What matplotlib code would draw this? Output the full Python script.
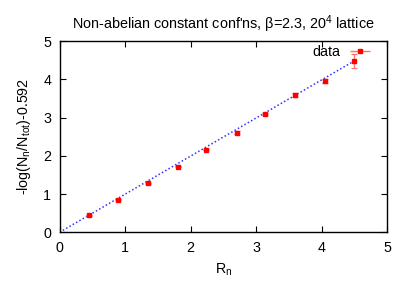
import matplotlib
matplotlib.use("Agg")
import matplotlib.pyplot as plt
from matplotlib.legend_handler import HandlerErrorbar
import numpy as np

plt.rcParams['font.family'] = ['Liberation Sans', 'DejaVu Sans']
plt.rcParams['mathtext.fontset'] = 'custom'
plt.rcParams['mathtext.rm'] = 'Liberation Sans'
plt.rcParams['mathtext.it'] = 'Liberation Sans'

# data
R_n = [0.445, 0.896, 1.35, 1.80, 2.24, 2.70, 3.14, 3.59, 4.04, 4.49]
y_vals = [0.445, 0.853, 1.28, 1.71, 2.16, 2.60, 3.10, 3.60, 3.95, 4.48]
y_err = [0.01, 0.01, 0.015, 0.015, 0.02, 0.04, 0.03, 0.05, 0.06, 0.19]
fit_slope = 0.997
fit_range = [0.0, 4.5]

fig = plt.figure(figsize=(4.15, 2.91), dpi=100)
ax = fig.add_axes([0.1434, 0.2017, 0.9337 - 0.1434, 0.859 - 0.2017])

xf = np.array(fit_range)
ax.plot(xf, fit_slope * xf, color='#3030ff', linestyle=(0, (1, 1.5)), linewidth=1.1, zorder=2)

ax.errorbar(R_n, y_vals, yerr=y_err, fmt='s', color='red', markersize=3.5,
            ecolor='#ff7070', elinewidth=0.9, capsize=2.5, capthick=0.9, zorder=3)

proxy = ax.errorbar([], [], xerr=[], fmt='s', color='red', markersize=3.5,
                    ecolor='#ff7070', elinewidth=1.0, capsize=2.5, capthick=1.0)
ax.legend([proxy], ['data'], loc='upper right', bbox_to_anchor=(0.962, 1.0),
          frameon=False, markerfirst=False,
          fontsize=10.3, handlelength=1.5, handletextpad=0.6, borderaxespad=0.0,
          borderpad=0.3,
          handler_map={type(proxy): HandlerErrorbar(xerr_size=0.72)})

ax.set_xlim(0, 5)
ax.set_ylim(0, 5)
ax.set_xticks([0, 1, 2, 3, 4, 5])
ax.set_yticks([0, 1, 2, 3, 4, 5])
ax.tick_params(direction='in', top=True, right=True, length=4, width=0.8,
               labelsize=10.3, pad=6, colors='black')
for s in ax.spines.values():
    s.set_linewidth(1.0)

ax.set_xlabel('R$_\\mathrm{n}$', fontsize=10.3, labelpad=5)
ax.set_ylabel('-log(N$_\\mathrm{n}$/N$_\\mathrm{tot}$)-0.592', fontsize=10.3, labelpad=7)
ax.set_title("Non-abelian constant conf'ns, β=2.3, 20$^4$ lattice", fontsize=10.4, pad=9)

fig.savefig('out.png', dpi=100)
